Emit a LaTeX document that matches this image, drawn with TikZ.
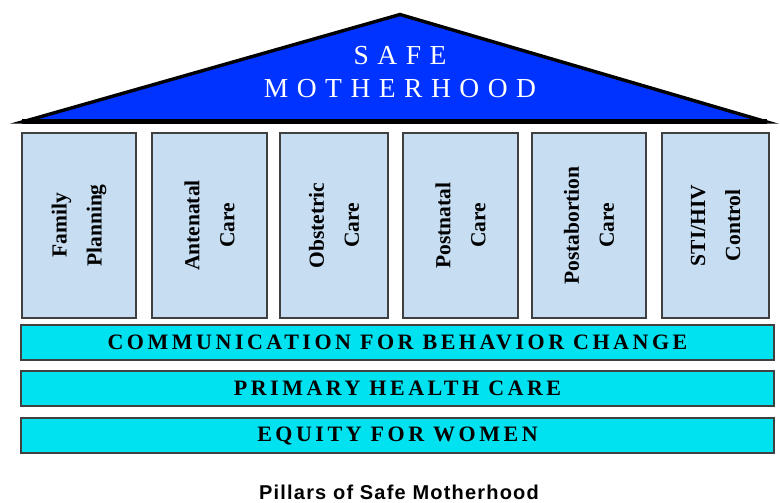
\documentclass[tikz,border=0pt]{standalone}
\usepackage{fontspec}
\setmainfont{Liberation Serif}
\newfontfamily\rooffont[LetterSpace=31]{Liberation Serif}
\newfontfamily\bandfont[LetterSpace=16]{Liberation Serif}
\newfontfamily\capfont[LetterSpace=6]{Liberation Sans}

\definecolor{roofblue}{RGB}{0,51,255}
\definecolor{pillarfill}{RGB}{198,221,242}
\definecolor{bandcyan}{RGB}{0,226,240}
\definecolor{edgegray}{RGB}{64,64,64}

\tikzset{
  roof/.style={fill=roofblue, draw=black, line width=3.4pt, line join=miter},
  pillar/.style={rectangle, rotate=90, draw=edgegray, fill=pillarfill, line width=1.3pt,
    inner sep=0pt, outer sep=0pt, minimum width=185pt, align=center,
    font=\fontsize{21.5}{35}\selectfont\bfseries},
  band/.style={rectangle, draw=edgegray, fill=bandcyan, line width=1.3pt,
    inner sep=0pt, outer sep=0pt, minimum width=753pt, minimum height=35pt,
    font=\bandfont\fontsize{22}{26}\selectfont\bfseries},
  roofword/.style={text=white, align=center, inner sep=0pt,
    font=\rooffont\fontsize{27.5}{33}\selectfont},
  caption/.style={anchor=base, inner sep=0pt,
    font=\capfont\fontsize{20}{24}\selectfont\bfseries}
}

\begin{document}
\begin{tikzpicture}[x=1pt, y=-1pt]
  \useasboundingbox (0,0) rectangle (780,503);
  \fill[white] (0,0) rectangle (780,503);

  % roof
  \coordinate (roofL) at (22,122);
  \coordinate (roofR) at (767,122);
  \coordinate (roofT) at (400,14.5);
  \draw[roof] (roofL) -- (roofT) -- (roofR) -- cycle;
  \draw[line width=5pt] (roofL) -- (roofR);
  \node[roofword] (title) at (400,72.5) {SAFE\\MOTHERHOOD};

  % pillars
  \node[pillar, minimum height=114pt] (p1) at (79,225.5)   {Family\\Planning};
  \node[pillar, minimum height=115pt] (p2) at (209.5,225.5) {Antenatal\\Care};
  \node[pillar, minimum height=108pt] (p3) at (334,225.5)  {Obstetric\\Care};
  \node[pillar, minimum height=115pt] (p4) at (460.5,225.5) {Postnatal\\Care};
  \node[pillar, minimum height=114pt] (p5) at (589,225.5)  {Postabortion\\Care};
  \node[pillar, minimum height=107pt] (p6) at (715.5,225.5) {STI/HIV\\Control};

  % foundation bands
  \node[band] (b1) at (397.5,342.5) {COMMUNICATION FOR BEHAVIOR CHANGE};
  \node[band] (b2) at (397.5,388.5) {PRIMARY HEALTH CARE};
  \node[band] (b3) at (397.5,435.5) {EQUITY FOR WOMEN};

  % caption
  \node[caption] (cap) at (399,499) {Pillars of Safe Motherhood};
\end{tikzpicture}
\end{document}
